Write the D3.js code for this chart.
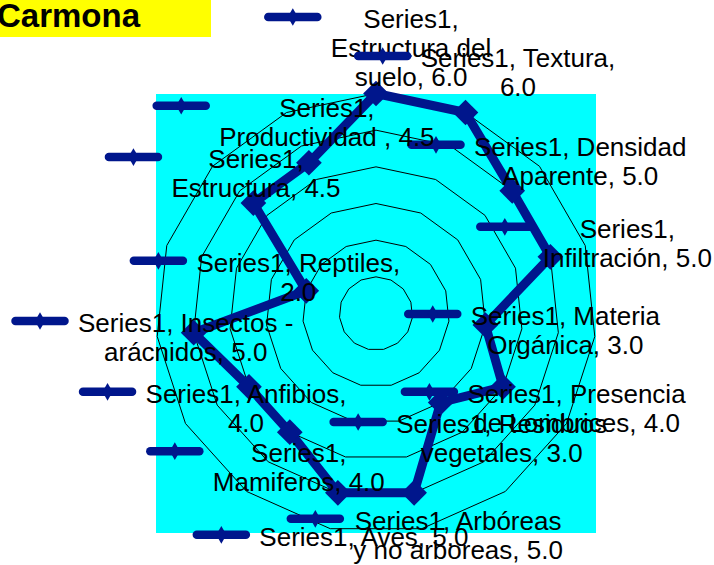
<!DOCTYPE html>
<html>
<head>
<meta charset="utf-8">
<script src="https://cdn.jsdelivr.net/npm/d3@7"></script>
<style>
  html, body { margin: 0; padding: 0; background: #ffffff; }
  svg { display: block; font-family: "Liberation Sans", Arial, sans-serif; }
</style>
</head>
<body>
<script>
// ---------------- data ----------------
const title = "Carmona";
const seriesName = "Series1";
const categories = [
  "Estructura del suelo", "Textura", "Densidad Aparente", "Infiltración",
  "Materia Orgánica", "Presencia de Lombrices", "Residuos vegetales",
  "Arbóreas y no arboreas", "Aves", "Mamiferos", "Anfibios",
  "Insectos - arácnidos", "Reptiles", "Estructura", "Productividad "
];
const values = [6.0, 6.0, 5.0, 5.0, 3.0, 4.0, 3.0, 5.0, 5.0, 4.0, 4.0, 5.0, 2.0, 4.5, 4.5];
const ringTicks = [1, 2, 3, 4, 5, 6];

// ---------------- layout (label placement, not data) ----------------
const labelOffsets = [
  [35, -65.5], [52.5, -45.5], [68, -35], [77, -19], [80, 0], [73.5, 16],
  [61, 30.5], [44, 37], [26, 53], [9, 30], [-3, 16], [-8, -0.7],
  [-8, -19], [2.6, -35], [18, -46]
];
const wordsPerLine = [
  [1, 2, 2], [2, 1], [2, 2], [1, 2], [2, 2], [2, 3], [2, 2], [2, 4],
  [3], [1, 2], [2, 1], [3, 2], [2, 1], [1, 2], [1, 3]
];

const W = 714, H = 565;
const navy = "#00168c";
const cx = 376, cy = 313.5, R = 220;

const svg = d3.select("body").append("svg").attr("width", W).attr("height", H);

// title box
svg.append("rect").attr("x", -10).attr("y", 0).attr("width", 221).attr("height", 37).attr("fill", "#ffff00");
svg.append("text").attr("x", -3).attr("y", 27).attr("font-size", 33).attr("font-weight", "bold")
  .attr("fill", "#000").text(title);

// plot area
svg.append("rect").attr("x", cx - R).attr("y", cy - R + 0.5).attr("width", 2 * R).attr("height", 2 * R - 1)
  .attr("fill", "#00ffff");

const n = categories.length;
const r = d3.scaleLinear().domain([0, 6]).range([0, R]);
const ang = d3.scaleLinear().domain([0, n]).range([0, 2 * Math.PI]);

const g = svg.append("g").attr("transform", `translate(${cx},${cy})`);

// grid rings
g.selectAll("path.ring").data(ringTicks).join("path")
  .attr("class", "ring")
  .attr("d", t => d3.lineRadial().angle((d, i) => ang(i)).radius(() => r(t)).curve(d3.curveLinearClosed)(categories))
  .attr("fill", "none").attr("stroke", "#000").attr("stroke-width", 1);

// series line
g.append("path")
  .attr("d", d3.lineRadial().angle((d, i) => ang(i)).radius(d => r(d)).curve(d3.curveLinearClosed)(values))
  .attr("fill", "none").attr("stroke", navy).attr("stroke-width", 9).attr("stroke-linejoin", "round");

const pts = values.map((v, i) => ({
  x: r(v) * Math.sin(ang(i)),
  y: -r(v) * Math.cos(ang(i)),
  v, i
}));

// markers
g.selectAll("path.mk").data(pts).join("path")
  .attr("class", "mk")
  .attr("d", d3.symbol(d3.symbolSquare, 330))
  .attr("transform", d => `translate(${d.x},${d.y}) rotate(45)`)
  .attr("fill", navy);

// labels with legend keys
const lineH = 29;
pts.forEach((p, i) => {
  const full = `${seriesName}, ${categories[i]}, ${values[i].toFixed(1)}`;
  const words = full.split(" ").filter(w => w.length);
  const lines = [];
  let k = 0;
  wordsPerLine[i].forEach(c => { lines.push(words.slice(k, k + c).join(" ")); k += c; });
  const lx = p.x + labelOffsets[i][0];
  const ly = p.y + labelOffsets[i][1];
  const lg = g.append("g");
  const keyG = lg.append("g");
  const t = lg.append("text").attr("font-size", 26).attr("fill", "#000").attr("text-anchor", "middle");
  const spans = lines.map((s, j) => t.append("tspan").attr("x", lx).attr("y", ly + j * lineH).text(s));
  const maxW = d3.max(spans, s => s.node().getComputedTextLength());
  const left = lx - maxW / 2;
  const ky = ly - 11;
  keyG.append("line").attr("x1", left - 9.5 - 53).attr("x2", left - 9.5 - 4).attr("y1", ky).attr("y2", ky)
    .attr("stroke", navy).attr("stroke-width", 8.5).attr("stroke-linecap", "round");
  keyG.append("path").attr("d", d3.symbol(d3.symbolDiamond, 90))
    .attr("transform", `translate(${left - 9.5 - 28.5},${ky})`).attr("fill", navy);
});
</script>
</body>
</html>
